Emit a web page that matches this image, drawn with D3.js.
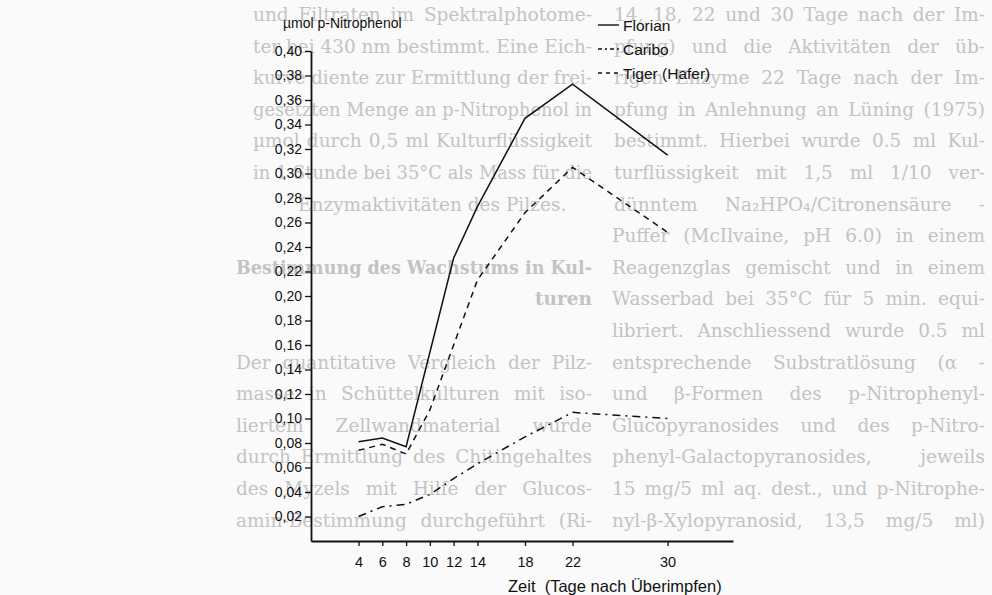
<!DOCTYPE html>
<html>
<head>
<meta charset="utf-8">
<script src="https://cdn.jsdelivr.net/npm/d3@7"></script>
<style>
  body { margin: 0; background: #fafafa; }
  svg { display: block; }
</style>
</head>
<body>
<div id="chart"></div>
<script>
// measurement days (Tage nach Überimpfen)
const days = [4, 6, 8, 10, 12, 14, 18, 22, 30]
// µmol p-Nitrophenol (null = no point drawn)
const florian = [0.081, 0.084, 0.077, null, 0.231, 0.273, 0.345, 0.373, 0.315]
const caribo  = [0.074, 0.079, 0.071, 0.107, 0.160, 0.213, 0.268, 0.305, 0.252]
const tiger   = [0.020, 0.028, 0.030, 0.038, 0.051, 0.063, 0.085, 0.105, 0.100]

const seriesNames = ["Florian", "Caribo", "Tiger (Hafer)"]
const xTicks = [4, 6, 8, 10, 12, 14, 18, 22, 30]
const yTicks = [0.02, 0.04, 0.06, 0.08, 0.10, 0.12, 0.14, 0.16, 0.18, 0.20,
                0.22, 0.24, 0.26, 0.28, 0.30, 0.32, 0.34, 0.36, 0.38, 0.40]

// page text showing through behind the figure
const pageLeft = [
  "und Filtraten im Spektralphotome-",
  "ter bei 430 nm bestimmt. Eine Eich-",
  "kurve diente zur Ermittlung der frei-",
  "gesetzten Menge an p-Nitrophenol in",
  "µmol durch 0,5 ml Kulturflüssigkeit",
  "in 1 Stunde bei 35°C als Mass für die",
  "Enzymaktivitäten des Pilzes.",
  "",
  "Bestimmung des Wachstums in Kul-",
  "turen",
  "",
  "Der quantitative Vergleich der Pilz-",
  "masse in Schüttelkulturen mit iso-",
  "liertem Zellwandmaterial wurde",
  "durch Ermittlung des Chitingehaltes",
  "des Myzels mit Hilfe der Glucos-",
  "amin-Bestimmung durchgeführt (Ri-"
]
const pageRight = [
  "14, 18, 22 und 30 Tage nach der Im-",
  "pfung) und die Aktivitäten der üb-",
  "rigen Enzyme 22 Tage nach der Im-",
  "pfung in Anlehnung an Lüning (1975)",
  "bestimmt. Hierbei wurde 0.5 ml Kul-",
  "turflüssigkeit mit 1,5 ml 1/10 ver-",
  "dünntem Na₂HPO₄/Citronensäure -",
  "Puffer (McIlvaine, pH 6.0) in einem",
  "Reagenzglas gemischt und in einem",
  "Wasserbad bei 35°C für 5 min. equi-",
  "libriert. Anschliessend wurde 0.5 ml",
  "entsprechende Substratlösung (α -",
  "und β-Formen des p-Nitrophenyl-",
  "Glucopyranosides und des p-Nitro-",
  "phenyl-Galactopyranosides, jeweils",
  "15 mg/5 ml aq. dest., und p-Nitrophe-",
  "nyl-β-Xylopyranosid, 13,5 mg/5 ml)"
]

const width = 992
const height = 595

const svg = d3.select("#chart")
  .append("svg")
    .attr("width", width)
    .attr("height", height)

svg.append("rect")
  .attr("width", width)
  .attr("height", height)
  .attr("fill", "#fafafa")

// ---- faint page text ----
const rowY = i => 21 + i * 31.6
const page = svg.append("g")
  .attr("fill", "#c3c3c3")
  .style("font-family", "'DejaVu Serif', 'Liberation Serif', serif")
  .style("font-size", "18.5px")

// justify a line by stretching its word gaps
function justify(txt, target) {
  const t = txt.text()
  const gaps = (t.match(/ /g) || []).length
  const w = txt.node().getComputedTextLength()
  if (w > target || gaps === 0) {
    txt.attr("textLength", target).attr("lengthAdjust", "spacingAndGlyphs")
  } else {
    txt.style("word-spacing", ((target - w) / gaps) + "px")
  }
}

function column(lines, x0, x1, x0top) {
  lines.forEach((t, i) => {
    if (!t) return
    const heading = t.startsWith("Bestimmung des") || t === "turen"
    const start = i < 7 ? x0top : x0
    const txt = page.append("text")
      .attr("y", rowY(i))
      .style("font-weight", heading ? "bold" : null)
      .text(t)
    if (t === "turen") {
      txt.attr("x", x1).attr("text-anchor", "end")
    } else if (t === "Enzymaktivitäten des Pilzes.") {
      txt.attr("x", start + 45)
    } else {
      txt.attr("x", start)
      justify(txt, x1 - start)
    }
  })
}
column(pageLeft, 236, 592, 253)
column(pageRight, 612, 985, 614)

// ---- chart ----
const x = d3.scaleLinear().domain([0, 35.5]).range([311, 733])
const y = d3.scaleLinear().domain([0, 0.40]).range([541, 51])

const g = svg.append("g")
  .style("font-family", "'Liberation Sans', Arial, sans-serif")
  .attr("fill", "#111")

const yAxis = g.append("g")
  .attr("transform", `translate(${x(0)},0)`)
  .call(d3.axisLeft(y)
    .tickValues(yTicks)
    .tickSize(6)
    .tickSizeOuter(0)
    .tickPadding(3)
    .tickFormat(d => d.toFixed(2).replace(".", ",")))
yAxis.selectAll("text")
  .style("font-family", "'Liberation Sans Narrow', 'Liberation Sans', sans-serif")
  .style("font-size", "14px")
  .attr("fill", "#111")

const xAxis = g.append("g")
  .attr("transform", `translate(0,${y(0)})`)
  .call(d3.axisBottom(x)
    .tickValues(xTicks)
    .tickSize(5)
    .tickSizeOuter(0)
    .tickPadding(11))
xAxis.selectAll("text").style("font-size", "14.5px").attr("fill", "#111")

svg.selectAll(".domain").attr("stroke", "#111").attr("stroke-width", 1.8)
svg.selectAll(".tick line").attr("stroke", "#111").attr("stroke-width", 1.3)

// axis titles
g.append("text")
  .attr("x", 283)
  .attr("y", 28)
  .style("font-size", "14px")
  .text("µmol p-Nitrophenol")

g.append("text")
  .attr("x", 508)
  .attr("y", 592)
  .style("font-size", "16.5px")
  .style("white-space", "pre")
  .text("Zeit  (Tage nach Überimpfen)")

// lines
const dashes = [null, "6,5", "8,5,2,5"]
const allSeries = [florian, caribo, tiger]

const line = d3.line()
  .x(d => x(d.day))
  .y(d => y(d.value))

allSeries.forEach((vals, k) => {
  const pts = days.map((day, i) => ({day: day, value: vals[i]}))
    .filter(d => d.value !== null)
  g.append("path")
    .datum(pts)
    .attr("fill", "none")
    .attr("stroke", "#111")
    .attr("stroke-width", 1.5)
    .attr("stroke-dasharray", dashes[k])
    .attr("d", line)
})

// legend
const legend = g.append("g")
seriesNames.forEach((name, k) => {
  const ly = 25 + k * 24
  legend.append("line")
    .attr("x1", 598).attr("x2", 619)
    .attr("y1", ly).attr("y2", ly)
    .attr("stroke", "#111")
    .attr("stroke-width", 1.4)
    .attr("stroke-dasharray", k === 0 ? null : (k === 1 ? "4,3,2,3" : "4,4"))
  legend.append("text")
    .attr("x", 623)
    .attr("y", ly + 5.5)
    .style("font-size", "15.5px")
    .text(name)
})
</script>
</body>
</html>
